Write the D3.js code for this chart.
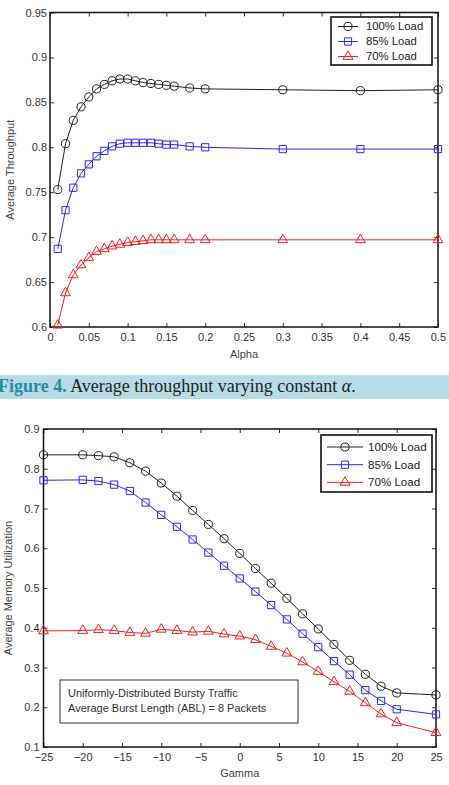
<!DOCTYPE html>
<html>
<head>
<meta charset="utf-8">
<script src="https://cdn.jsdelivr.net/npm/d3@7"></script>
<style>
  body { margin: 0; background: #fff; }
  svg { display: block; }
  text { font-family: "Liberation Sans", Arial, sans-serif; }
</style>
</head>
<body>
<div id="chart"></div>
<script>
// ---- data: figure 4 (throughput vs alpha) ----
var alpha = [0.01, 0.02, 0.03, 0.04, 0.05, 0.06, 0.07, 0.08, 0.09, 0.10, 0.11, 0.12, 0.13, 0.14, 0.15, 0.16, 0.18, 0.2, 0.3, 0.4, 0.5];
var thr100 = [0.753, 0.804, 0.830, 0.845, 0.856, 0.865, 0.870, 0.874, 0.876, 0.876, 0.874, 0.872, 0.871, 0.870, 0.869, 0.868, 0.866, 0.865, 0.864, 0.863, 0.864];
var thr85 = [0.687, 0.730, 0.755, 0.771, 0.781, 0.790, 0.796, 0.801, 0.804, 0.805, 0.805, 0.805, 0.805, 0.804, 0.803, 0.803, 0.801, 0.800, 0.798, 0.798, 0.798];
var thr70 = [0.602, 0.638, 0.658, 0.669, 0.677, 0.684, 0.687, 0.690, 0.692, 0.694, 0.695, 0.696, 0.697, 0.697, 0.697, 0.697, 0.697, 0.697, 0.697, 0.697, 0.697];
var alphaTicks = [0, 0.05, 0.1, 0.15, 0.2, 0.25, 0.3, 0.35, 0.4, 0.45, 0.5];
var thrTicks = [0.6, 0.65, 0.7, 0.75, 0.8, 0.85, 0.9, 0.95];

// ---- data: memory utilization vs gamma ----
var gamma = [-25, -20, -18, -16, -14, -12, -10, -8, -6, -4, -2, 0, 2, 4, 6, 8, 10, 12, 14, 16, 18, 20, 25];
var mem100 = [0.835, 0.835, 0.833, 0.830, 0.815, 0.794, 0.764, 0.731, 0.695, 0.660, 0.624, 0.587, 0.549, 0.512, 0.474, 0.435, 0.397, 0.358, 0.318, 0.283, 0.253, 0.236, 0.231];
var mem85 = [0.771, 0.772, 0.769, 0.760, 0.744, 0.715, 0.684, 0.654, 0.622, 0.589, 0.556, 0.524, 0.491, 0.457, 0.421, 0.385, 0.351, 0.316, 0.282, 0.243, 0.216, 0.195, 0.182];
var mem70 = [0.392, 0.393, 0.395, 0.393, 0.388, 0.386, 0.396, 0.393, 0.389, 0.391, 0.384, 0.379, 0.370, 0.353, 0.336, 0.314, 0.290, 0.264, 0.240, 0.211, 0.183, 0.161, 0.136];
var gammaTicks = [-25, -20, -15, -10, -5, 0, 5, 10, 15, 20, 25];
var memTicks = [0.1, 0.2, 0.3, 0.4, 0.5, 0.6, 0.7, 0.8, 0.9];

var loadNames = ["100% Load", "85% Load", "70% Load"];
var loadColors = ["#222", "#2a2af0", "#f02020"];
var loadSymbols = [d3.symbolCircle, d3.symbolSquare, d3.symbolTriangle];

var W = 449, H = 785;
var svg = d3.select("#chart").append("svg").attr("width", W).attr("height", H);

function drawPanel(opt) {
    var x = d3.scaleLinear().domain(opt.xDomain).range([opt.left, opt.right]);
    var y = d3.scaleLinear().domain(opt.yDomain).range([opt.bottom, opt.top]);
    var g = svg.append("g");
    var fmt = d3.format("~g");

    // inward ticks on all four sides
    var axes = [
        [d3.axisBottom(x).tickValues(opt.xTicks).tickFormat(fmt), opt.bottom, "x", 6],
        [d3.axisTop(x).tickValues(opt.xTicks).tickFormat(""), opt.top, "x", 4],
        [d3.axisLeft(y).tickValues(opt.yTicks).tickFormat(fmt), opt.left, "y", opt.yPad],
        [d3.axisRight(y).tickValues(opt.yTicks).tickFormat(""), opt.right, "y", 4]
    ];
    axes.forEach(function(a) {
        var ax = g.append("g")
            .attr("transform", a[2] == "x" ? "translate(0," + a[1] + ")" : "translate(" + a[1] + ",0)")
            .call(a[0].tickSize(-4).tickSizeOuter(0).tickPadding(a[3]));
        ax.select(".domain").remove();
        ax.selectAll("line").attr("stroke", "#333");
        ax.selectAll("text").attr("fill", "#333").style("font-size", "11px");
    });

    g.append("rect")
        .attr("x", opt.left).attr("y", opt.top)
        .attr("width", opt.right - opt.left).attr("height", opt.bottom - opt.top)
        .attr("fill", "none").attr("stroke", "#111").attr("stroke-width", 1.5);

    var line = d3.line().x(function(d) { return x(d[0]); }).y(function(d) { return y(d[1]); });
    opt.series.forEach(function(vals, i) {
        var pts = opt.xs.map(function(v, j) { return [v, vals[j]]; });
        g.append("path").datum(pts).attr("d", line)
            .attr("fill", "none").attr("stroke", loadColors[i]).attr("stroke-width", 1);
        g.selectAll(".m" + i).data(pts).enter().append("path")
            .attr("transform", function(d) { return "translate(" + x(d[0]) + "," + y(d[1]) + ")"; })
            .attr("d", d3.symbol().type(loadSymbols[i]).size(i == 2 ? 42 : 52))
            .attr("fill", "none").attr("stroke", loadColors[i]).attr("stroke-width", 1);
    });

    // axis titles
    g.append("text").attr("x", (opt.left + opt.right) / 2).attr("y", opt.xLabelY)
        .attr("text-anchor", "middle").attr("fill", "#444").style("font-size", "11px").text(opt.xLabel);
    g.append("text").attr("transform", "translate(" + opt.yLabelX + "," + ((opt.top + opt.bottom) / 2) + ") rotate(-90)")
        .attr("text-anchor", "middle").attr("fill", "#444").style("font-size", "11px").text(opt.yLabel);

    // legend
    var lg = opt.legend;
    g.append("rect").attr("x", lg.x).attr("y", lg.y).attr("width", lg.w).attr("height", lg.h)
        .attr("fill", "#fff").attr("stroke", "#111").attr("stroke-width", 1.6);
    loadNames.forEach(function(name, i) {
        var ly = lg.y + lg.first + i * lg.step;
        g.append("line").attr("x1", lg.x + lg.l1).attr("x2", lg.x + lg.l2).attr("y1", ly).attr("y2", ly)
            .attr("stroke", loadColors[i]);
        g.append("path").attr("transform", "translate(" + (lg.x + (lg.l1 + lg.l2) / 2) + "," + ly + ")")
            .attr("d", d3.symbol().type(loadSymbols[i]).size(i == 2 ? 42 : 52))
            .attr("fill", "none").attr("stroke", loadColors[i]);
        g.append("text").attr("x", lg.x + lg.tx).attr("y", ly).attr("dy", "0.35em")
            .attr("fill", "#222").style("font-size", lg.font).text(name);
    });
    return g;
}

drawPanel({
    xDomain: [0, 0.5], yDomain: [0.6, 0.95],
    left: 50, right: 438, top: 12.5, bottom: 327,
    xTicks: alphaTicks, yTicks: thrTicks, yPad: 3,
    xs: alpha, series: [thr100, thr85, thr70],
    xLabel: "Alpha", xLabelY: 358, yLabel: "Average Throughput", yLabelX: 14,
    legend: { x: 331, y: 17, w: 101, h: 48, first: 9.5, step: 15, l1: 7, l2: 27, tx: 35, font: "11.3px" }
});

// caption band
svg.append("rect").attr("x", 0).attr("y", 375).attr("width", W).attr("height", 24).attr("fill", "#b5dce7");
var cap = svg.append("text").attr("x", -2).attr("y", 392)
    .style("font-family", "'Liberation Serif', 'Times New Roman', serif").style("font-size", "18px");
cap.append("tspan").attr("fill", "#2b8aa3").style("font-weight", "bold").text("Figure 4.");
cap.append("tspan").attr("fill", "#222").text(" Average throughput varying constant ");
cap.append("tspan").attr("fill", "#222").style("font-style", "italic").text("α");
cap.append("tspan").attr("fill", "#222").text(".");

var g2 = drawPanel({
    xDomain: [-25, 25], yDomain: [0.1, 0.9],
    left: 43.5, right: 436, top: 429, bottom: 747,
    xTicks: gammaTicks, yTicks: memTicks, yPad: 4,
    xs: gamma, series: [mem100, mem85, mem70],
    xLabel: "Gamma", xLabelY: 777, yLabel: "Average Memory Utilization", yLabelX: 12,
    legend: { x: 321, y: 435, w: 111, h: 57, first: 12, step: 17.7, l1: 6, l2: 42, tx: 47, font: "11.6px" }
});

// annotation box
g2.append("rect").attr("x", 60).attr("y", 680).attr("width", 238).attr("height", 43)
    .attr("fill", "#fff").attr("stroke", "#333").attr("stroke-width", 1);
["Uniformly-Distributed Bursty Traffic", "Average Burst Length (ABL) = 8 Packets"].forEach(function(t, i) {
    g2.append("text").attr("x", 68).attr("y", 693 + i * 15).attr("dy", "0.35em")
        .attr("fill", "#333").style("font-size", "11px").text(t);
});
</script>
</body>
</html>
